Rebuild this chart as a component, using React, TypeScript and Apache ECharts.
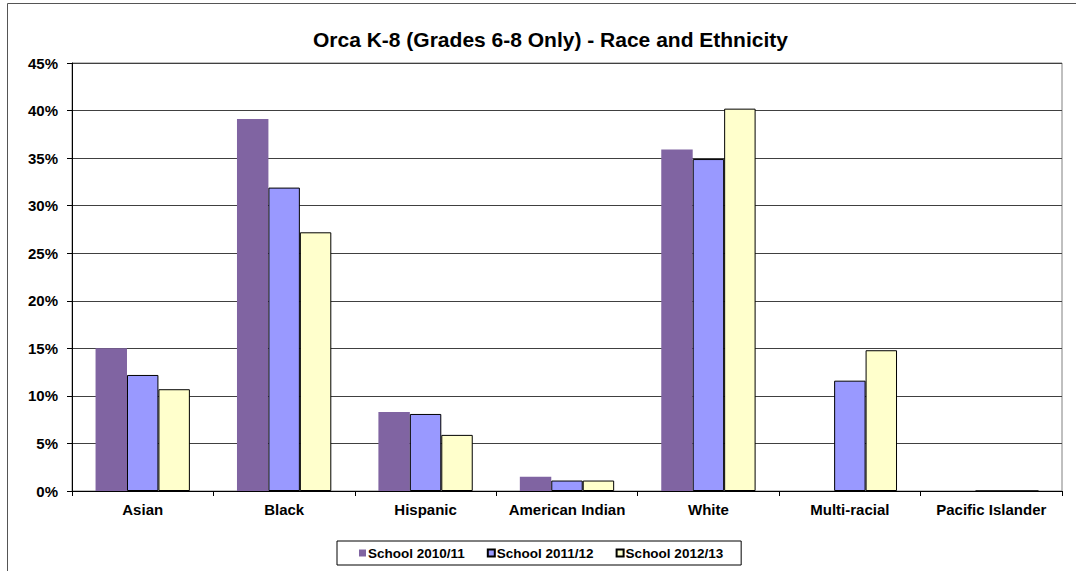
import React, { useEffect, useRef } from "react";
import * as echarts from "echarts";

const categories = ["Asian", "Black", "Hispanic", "American Indian", "White", "Multi-racial", "Pacific Islander"];
const seriesNames = ["School 2010/11", "School 2011/12", "School 2012/13"];
const values2010 = [15.0, 39.1, 8.3, 1.5, 35.9, 0, 0];
const values2011 = [12.2, 31.9, 8.1, 1.1, 34.9, 11.6, 0];
const values2012 = [10.7, 27.2, 5.9, 1.1, 40.2, 14.8, 0];
const yTicks = { min: 0, max: 45, interval: 5 };
const titleText = "Orca K-8 (Grades 6-8 Only) - Race and Ethnicity";

const FONT = 'Arial, "Liberation Sans", sans-serif';

export default function App() {
  const ref = useRef<HTMLDivElement>(null);
  useEffect(() => {
    if (!ref.current) return;
    const chart = echarts.init(ref.current, undefined, { renderer: "svg" });
    const colors = ["#8064A2", "#9999FF", "#FFFFCC"];
    const borders = [
      { borderColor: "#8064A2", borderWidth: 0 },
      { borderColor: "#000000", borderWidth: 1 },
      { borderColor: "#000000", borderWidth: 1 },
    ];
    const data = [values2010, values2011, values2012];
    chart.setOption({
      animation: false,
      backgroundColor: "#ffffff",
      title: {
        text: titleText,
        left: 308,
        top: 24,
        textStyle: { fontFamily: FONT, fontWeight: "bold", fontSize: 21, color: "#000" },
      },
      graphic: [
        {
          type: "polyline",
          shape: { points: [[7.5, 571], [7.5, 3.5], [1076, 3.5]] },
          style: { stroke: "#555", lineWidth: 1, fill: null },
          silent: true,
        },
      ],
      legend: {
        left: 337,
        top: 541,
        width: 412,
        data: seriesNames,
        icon: "rect",
        itemWidth: 7,
        itemHeight: 7,
        itemGap: 22,
        borderColor: "#000",
        borderWidth: 1,
        padding: [5, 18, 5, 22],
        textStyle: { fontFamily: FONT, fontWeight: "bold", fontSize: 13.5, color: "#000", padding: [0, 0, 0, -3] },
      },
      grid: {
        left: 72,
        right: 14,
        top: 63,
        bottom: 80,
        show: true,
        borderColor: "#808080",
        borderWidth: 1,
        containLabel: false,
      },
      xAxis: {
        type: "category",
        data: categories,
        boundaryGap: true,
        axisLine: { lineStyle: { color: "#000", width: 1 } },
        axisTick: { show: true, length: 5, lineStyle: { color: "#000" } },
        axisLabel: { fontFamily: FONT, fontWeight: "bold", fontSize: 15, color: "#000", margin: 11, interval: 0 },
      },
      yAxis: {
        type: "value",
        min: yTicks.min,
        max: yTicks.max,
        interval: yTicks.interval,
        axisLine: { show: true, lineStyle: { color: "#000", width: 1 } },
        axisTick: { show: true, length: 5, lineStyle: { color: "#000" } },
        axisLabel: { fontFamily: FONT, fontWeight: "bold", fontSize: 15, color: "#000", margin: 14, formatter: "{value}%" },
        splitLine: { show: true, lineStyle: { color: "#404040", width: 1 } },
      },
      series: seriesNames.map((name, i) => ({
        name,
        type: "bar",
        data: data[i],
        barGap: "0%",
        barCategoryGap: "33.3%",
        itemStyle: { color: colors[i], ...borders[i] },
      })),
    });
    return () => chart.dispose();
  }, []);
  return <div ref={ref} style={{ position: "fixed", left: 0, top: 0, width: 1076, height: 571 }} />;
}
